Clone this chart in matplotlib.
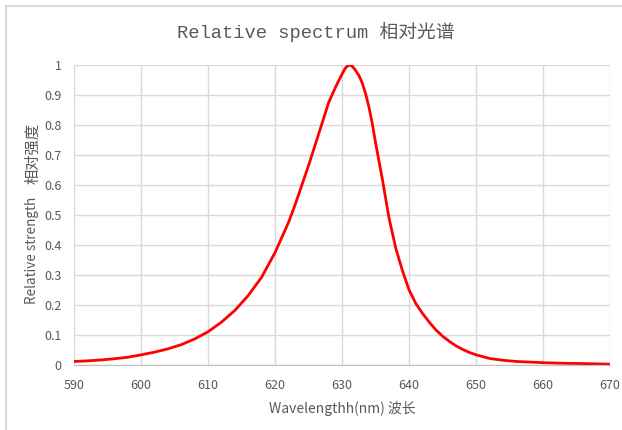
import matplotlib
matplotlib.use("Agg")
import matplotlib.pyplot as plt
from matplotlib.lines import Line2D

# wavelength (nm) and relative intensity
wavelength = [590, 592, 594, 596, 598, 600, 602, 604, 606, 608, 610, 612, 614, 616,
              618, 620, 621, 622, 623, 624, 625, 626, 627, 628, 629, 630, 630.5,
              631, 631.5, 632, 632.5, 633, 633.5, 634, 634.5, 635, 635.5, 636,
              636.5, 637, 637.5, 638, 638.5, 639, 639.5, 640, 641, 642, 643, 644,
              645, 646, 647, 648, 649, 650, 652, 654, 656, 658, 660, 663, 666, 670]
strength = [0.012, 0.014, 0.017, 0.021, 0.026, 0.034, 0.043, 0.054, 0.068, 0.087,
            0.111, 0.143, 0.182, 0.232, 0.293, 0.375, 0.425, 0.475, 0.535, 0.6,
            0.665, 0.735, 0.805, 0.875, 0.925, 0.97, 0.99, 1.0, 0.996, 0.982,
            0.965, 0.94, 0.905, 0.86, 0.805, 0.74, 0.68, 0.62, 0.555, 0.49, 0.44,
            0.39, 0.352, 0.315, 0.282, 0.25, 0.205, 0.172, 0.143, 0.117, 0.096,
            0.079, 0.064, 0.052, 0.042, 0.034, 0.022, 0.016, 0.012, 0.01, 0.008,
            0.006, 0.005, 0.003]
x_ticks = list(range(590, 671, 10))
y_ticks = [i / 10 for i in range(11)]
y_tick_labels = ["0", "0.1", "0.2", "0.3", "0.4", "0.5", "0.6", "0.7", "0.8", "0.9", "1"]

grid_col = "#d9d9d9"
text_col = "#595959"
sans = ["Noto Sans CJK SC", "DejaVu Sans"]

fig = plt.figure(figsize=(6.22, 4.30), dpi=100)
ax = fig.add_axes([0.119, 0.151, 0.862, 0.698])

ax.plot(wavelength, strength, color="#ff0000", lw=2.0,
        solid_joinstyle="round", solid_capstyle="round")

ax.set_xlim(590, 670)
ax.set_ylim(0, 1)
ax.set_xticks(x_ticks)
ax.set_yticks(y_ticks)
ax.set_yticklabels(y_tick_labels)
ax.grid(True, color=grid_col, lw=1.0)
ax.set_axisbelow(True)
for side in ["top", "right", "left"]:
    ax.spines[side].set_visible(False)
ax.spines["bottom"].set_color("#bfbfbf")
ax.tick_params(length=0, colors=text_col, labelsize=9)
ax.tick_params(axis="x", pad=10)
ax.tick_params(axis="y", pad=9)
for lab in ax.get_xticklabels() + ax.get_yticklabels():
    lab.set_family(sans)

fig.text(342 / 622, 1 - 408 / 430, "Wavelengthh(nm) 波长", family=sans, fontsize=10,
         color=text_col, ha="center", va="center")
# y label: latin part and chinese part have different sizes in the original
fig.text(32 / 622, 1 - 250 / 430, "Relative strength", family=sans, fontsize=9.7,
         color=text_col, ha="center", va="center", rotation=90)
fig.text(33 / 622, 1 - 154 / 430, "相对强度", family=sans, fontsize=11,
         color=text_col, ha="center", va="center", rotation=90)
fig.text(316 / 622, 1 - 32 / 430, "Relative spectrum 相对光谱",
         family=["Liberation Mono", "Noto Sans CJK SC"],
         fontsize=13.5, color=text_col, ha="center", va="center")

# light frame at the top and left edge
fig.add_artist(Line2D([6 / 622, 1], [1 - 6 / 430, 1 - 6 / 430], color=grid_col, lw=1.5))
fig.add_artist(Line2D([6 / 622, 6 / 622], [0, 1 - 6 / 430], color=grid_col, lw=1.5))

fig.savefig("out.png", dpi=100)
